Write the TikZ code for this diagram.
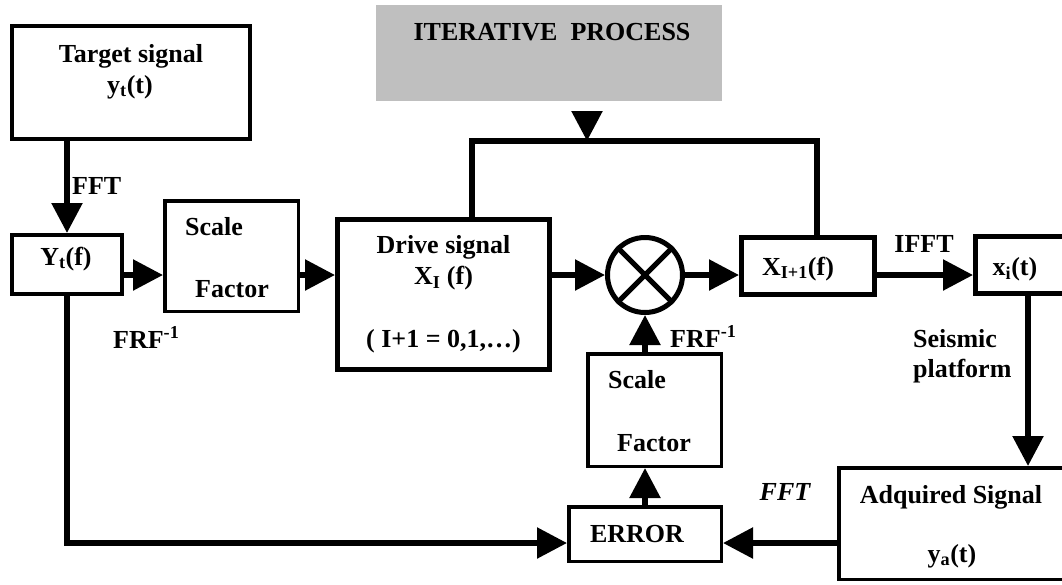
\documentclass[tikz,border=0pt]{standalone}
\usepackage{fontspec}
\setmainfont{Liberation Serif}
\usetikzlibrary{arrows.meta}

\begin{document}
\begin{tikzpicture}[x=1pt, y=-1pt,
  font=\fontsize{26}{31}\selectfont\bfseries,
  box/.style={draw, line width=3.5pt, inner sep=0pt},
  thickbox/.style={box, line width=5pt},
  lbl/.style={inner sep=0pt, anchor=base},
  wire/.style={line width=5.5pt},
  arr/.style={wire, -{Triangle[length=30pt, width=30pt]}}]
  \useasboundingbox (0,0) rectangle (1062,584);
  \clip (0,0) rectangle (1062,584);

  % Blocks
  \node[fill=black!25, minimum width=346pt, minimum height=96pt] (proc) at (549,53) {};
  \node[box, line width=4pt, minimum width=238pt, minimum height=113pt] (tgt) at (131,82.5) {};
  \node[box, line width=4pt, minimum width=110pt, minimum height=59pt] (Yt) at (67,264.5) {};
  \node[box, minimum width=133.5pt, minimum height=110.5pt] (sf1) at (231.5,256) {};
  \node[thickbox, align=center, minimum width=212pt, minimum height=150pt] (drv) at (443.5,294.5)
    {Drive signal\\X\textsubscript{I} (f)\\[32pt]( I+1 = 0,1,…)};
  \node[thickbox, circle, minimum size=75pt] (mix) at (645,275) {};
  \draw[line width=5pt] (mix.45) -- (mix.225) (mix.135) -- (mix.-45);
  \node[thickbox, minimum width=133pt, minimum height=57pt] (xn) at (808,266) {};
  \node[thickbox, minimum width=90pt, minimum height=57pt] (xi) at (1020.5,265) {};
  \node[box, minimum width=133.5pt, minimum height=112.5pt] (sf2) at (654.5,410) {};
  \node[box, minimum width=152.5pt, minimum height=54.5pt] (err) at (645,534) {};
  \node[box, minimum width=227.5pt, minimum height=111.5pt] (adq) at (952.5,523.5) {};

  % Forward path
  \coordinate (row) at (0,275);
  \draw[arr] (tgt.south -| Yt.north) -- (Yt.north);
  \draw[arr] (Yt.east |- row) -- (sf1.west |- row);
  \draw[arr] (sf1.east |- row) -- (drv.west |- row);
  \draw[arr] (drv.east |- row) -- (mix.west);
  \draw[arr] (mix.east) -- (xn.west |- row);
  \draw[arr] (xn.east |- row) -- (xi.west |- row);
  \coordinate (drop) at (1028,0);
  \draw[arr] (xi.south -| drop) -- (adq.north -| drop);

  % Iteration loop
  \coordinate (fbL) at (472,141);
  \coordinate (fbR) at (817,141);
  \coordinate (iter) at (587,141);
  \draw[wire] (drv.north -| fbL) -- (fbL) -- (fbR) -- (xn.north -| fbR);
  \draw[arr, shorten <=10pt] (proc.south -| iter) -- (iter);

  % Error feedback
  \coordinate (low) at (0,543);
  \draw[arr] (Yt.south) |- (err.west |- low);
  \draw[arr] (adq.west |- low) -- (err.east |- low);
  \draw[arr] (err.north -| mix) -- (sf2.south -| mix);
  \draw[arr] (sf2.north -| mix) -- (mix.south);

  % Texts
  \node[lbl] at (552,40) {ITERATIVE\ \ PROCESS};
  \node[lbl] at (131,62) {Target signal};
  \node[lbl] at (130,93) {y\textsubscript{t}(t)};
  \node[lbl] at (66,265) {Y\textsubscript{t}(f)};
  \node[lbl, anchor=base west] at (72,194) {FFT};
  \node[lbl, anchor=base west] at (185,235) {Scale};
  \node[lbl, anchor=base west] at (195,297) {Factor};
  \node[lbl, anchor=base west] at (113,348) {FRF\textsuperscript{-1}};
  \node[lbl] at (798,275) {X\textsubscript{I+1}(f)};
  \node[lbl] at (924,252) {IFFT};
  \node[lbl] at (1015,275) {x\textsubscript{i}(t)};
  \node[lbl, anchor=base west] at (913,347) {Seismic};
  \node[lbl, anchor=base west] at (913,377) {platform};
  \node[lbl, anchor=base west] at (670,347) {FRF\textsuperscript{-1}};
  \node[lbl, anchor=base west] at (608,388) {Scale};
  \node[lbl, anchor=base west] at (617,451) {Factor};
  \node[lbl] at (637,542) {ERROR};
  \node[lbl] at (785,500) {\itshape FFT};
  \node[lbl] at (951,503) {Adquired Signal};
  \node[lbl] at (952,562) {y\textsubscript{a}(t)};
\end{tikzpicture}
\end{document}
